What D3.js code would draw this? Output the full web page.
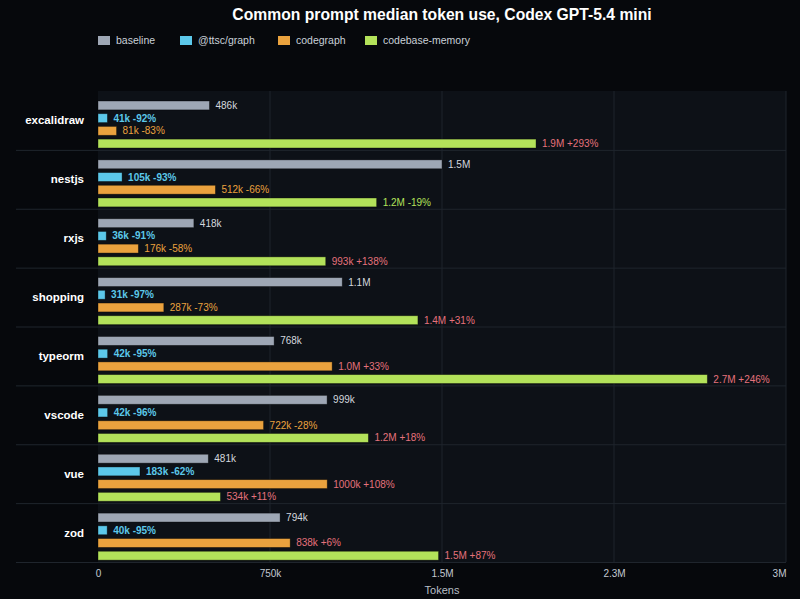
<!DOCTYPE html>
<html><head><meta charset="utf-8">
<script src="https://cdn.jsdelivr.net/npm/d3@7/dist/d3.min.js"></script>
<style>
html,body{margin:0;padding:0;background:#06080c;}
svg{display:block;font-family:"Liberation Sans",Arial,sans-serif;}
</style></head><body>
<svg id="chart" width="800" height="599"></svg>
<script>
const categories = ["excalidraw","nestjs","rxjs","shopping","typeorm","vscode","vue","zod"];
const seriesNames = ["baseline","@ttsc/graph","codegraph","codebase-memory"];
const baseline     = [486000,1500000,418000,1065000,768000,999000,481000,794000];
const ttscGraph    = [41000,105000,36000,31000,42000,42000,183000,40000];
const codegraph    = [81000,512000,176000,287000,1021000,722000,999600,838000];
const codebaseMem  = [1910000,1215000,993000,1395000,2657000,1179000,534000,1485000];
const tickValues = [0,750000,1500000,2250000,3000000];
const tickLabels = ["0","750k","1.5M","2.3M","3M"];
const colors = ["#9ea7b5","#5cc8ea","#eaa23e","#b3e25a"];
const posColor = "#e5727c";

const svg = d3.select("#chart");
const W = 800, H = 599;
const m = {l:98, r:14, t:91, b:37};
const x = d3.scaleLinear().domain([0,3000000]).range([m.l, W-m.r]);
const y = d3.scaleBand().domain(categories).range([m.t, H-m.b]);
const bw = y.bandwidth();
const ySub = d3.scaleBand().domain(seriesNames).range([10, 57]).paddingInner(0.3);

svg.append("rect").attr("width",W).attr("height",H).attr("fill","#06080c");
svg.append("rect").attr("x",m.l).attr("y",m.t).attr("width",x.range()[1]-m.l).attr("height",H-m.b-m.t).attr("fill","#0d1117");

// grid
svg.append("g").selectAll("line").data(tickValues.slice(1)).join("line")
  .attr("x1",d=>x(d)).attr("x2",d=>x(d)).attr("y1",m.t).attr("y2",H-m.b)
  .attr("stroke","#1f252d").attr("stroke-width",1);

// separators
svg.append("g").selectAll("line").data(categories).join("line")
  .attr("x1",16).attr("x2",x.range()[1]).attr("y1",d=>y(d)+bw+0.5).attr("y2",d=>y(d)+bw+0.5)
  .attr("stroke","#1f252d").attr("stroke-width",1);

const fmtV = v => v >= 1e6 ? (v/1e6).toFixed(1)+"M" : Math.round(v/1e3)+"k";
const seriesData = [baseline, ttscGraph, codegraph, codebaseMem];

const rows = [];
categories.forEach((c,i)=>{
  seriesData.forEach((arr,j)=>{
    const v = arr[i];
    let label = fmtV(v), col = j===0 ? "#d4d8de" : colors[j];
    if (j>0){
      const p = Math.round((v/baseline[i]-1)*100);
      label += " " + (p>0?"+":"") + p + "%";
      if (p>0) col = posColor;
    }
    rows.push({c, j, v, label, col});
  });
});

const g = svg.append("g");
g.selectAll("rect").data(rows).join("rect")
  .attr("x",x(0)).attr("y",d=>y(d.c)+ySub(seriesNames[d.j]))
  .attr("width",d=>x(d.v)-x(0)).attr("height",ySub.bandwidth())
  .attr("fill",d=>colors[d.j]).attr("stroke","rgba(0,0,0,0.45)").attr("stroke-width",0.8);

g.selectAll("text").data(rows).join("text")
  .attr("x",d=>x(d.v)+6).attr("y",d=>y(d.c)+ySub(seriesNames[d.j])+ySub.bandwidth()/2)
  .attr("dy","0.35em").attr("font-size",10).attr("fill",d=>d.col)
  .attr("font-weight",d=>d.j===1?"bold":"normal")
  .text(d=>d.label);

// category labels
svg.append("g").selectAll("text").data(categories).join("text")
  .attr("x",84).attr("y",d=>y(d)+bw/2).attr("dy","0.35em")
  .attr("text-anchor","end").attr("font-size",11.5).attr("font-weight","bold").attr("fill","#ffffff")
  .text(d=>d);

// x axis
const xAxis = d3.axisBottom(x).tickValues(tickValues).tickFormat((d,i)=>tickLabels[i]).tickSize(0).tickPadding(8);
const ax = svg.append("g").attr("transform",`translate(0,${H-m.b})`).call(xAxis);
ax.select(".domain").remove();
ax.selectAll("text").attr("font-size",10).attr("fill","#c3c9d1").attr("font-family","Liberation Sans, Arial, sans-serif");
ax.selectAll(".tick").filter((d,i)=>i===tickValues.length-1).select("text").attr("text-anchor","end").attr("dx","0");

svg.append("text").attr("x",(m.l+x.range()[1])/2).attr("y",594).attr("text-anchor","middle")
  .attr("font-size",11).attr("fill","#b8bec6").text("Tokens");

// title
svg.append("text").attr("x",(m.l+x.range()[1])/2).attr("y",20).attr("text-anchor","middle")
  .attr("font-size",15.7).attr("font-weight","bold").attr("fill","#ffffff")
  .text("Common prompt median token use, Codex GPT-5.4 mini");

// legend
const legendX = [98,180,278,365];
const lg = svg.append("g").selectAll("g").data(seriesNames).join("g")
  .attr("transform",(d,i)=>`translate(${legendX[i]},36)`);
lg.append("rect").attr("width",12).attr("height",9).attr("fill",(d,i)=>colors[i]);
lg.append("text").attr("x",18).attr("y",4.5).attr("dy","0.35em").attr("font-size",10.5).attr("fill","#c9d1d9").text(d=>d);
</script>
</body></html>
